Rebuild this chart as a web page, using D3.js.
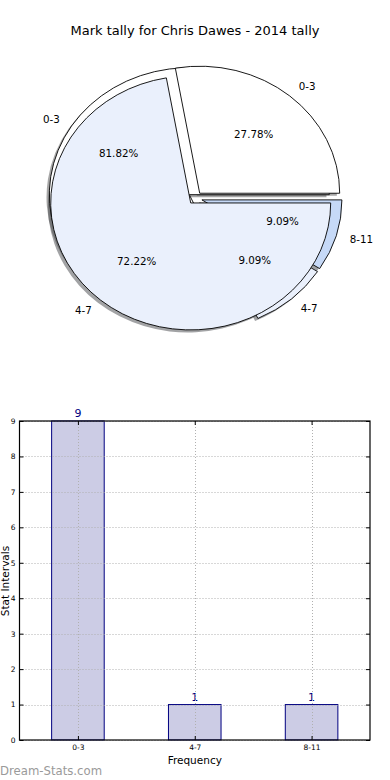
<!DOCTYPE html>
<html>
<head>
<meta charset="utf-8">
<script src="https://cdn.jsdelivr.net/npm/d3@7"></script>
<style>
	html, body { margin: 0; padding: 0; background: #fff; }
	svg { display: block; font-family: "DejaVu Sans", sans-serif; }
</style>
</head>
<body>
<svg id="chart" width="390" height="780"></svg>
<script>
// pie drawn underneath: the frequency table
const pieCategoriesB = ["0-3", "4-7", "8-11"];
const pieCountsB = [9, 1, 1];
// pie drawn on top
const pieCategoriesA = ["0-3", "4-7"];
const pieCountsA = [5, 13];
const sliceColors = ["#ffffff", "#eaf0fc", "#c6d9f7"];

const barCategories = ["0-3", "4-7", "8-11"];
const barValues = [9, 1, 1];
const yTicks = [0, 1, 2, 3, 4, 5, 6, 7, 8, 9];

const titleText = "Mark tally for Chris Dawes - 2014 tally";

let svg = d3.select("#chart");

svg.append("text")
	.attr("x", 195)
	.attr("y", 35)
	.attr("text-anchor", "middle")
	.attr("font-size", 13)
	.text(titleText);

// ---- pie (matplotlib style: starts at 3 o'clock, counterclockwise, elliptical axes)
let cx = 195.2, cy = 198.1, rx = 140, ry = 127;
let explode = 0.05;

let pie = d3.pie()
	.sort(null)
	.startAngle(Math.PI / 2)
	.endAngle(Math.PI / 2 - 2 * Math.PI);
let arc = d3.arc().innerRadius(0).outerRadius(1);

function slices(counts, categories) {
	let total = d3.sum(counts);
	return pie(counts).map((d, i) => {
		let mid = Math.PI / 2 - (d.startAngle + d.endAngle) / 2; // math angle
		return {
			arc: d,
			mid: mid,
			label: categories[i],
			pct: (counts[i] / total * 100).toFixed(2) + "%",
			color: sliceColors[i],
			ox: explode * Math.cos(mid),
			oy: -explode * Math.sin(mid)
		};
	});
}

let wedgesB = slices(pieCountsB, pieCategoriesB);
let wedgesA = slices(pieCountsA, pieCategoriesA);

let pieGroup = svg.append("g")
	.attr("transform", `translate(${cx},${cy}) scale(${rx},${ry})`);

function shade(color) {
	let c = d3.rgb(color);
	return d3.rgb(c.r * 0.3, c.g * 0.3, c.b * 0.3).toString();
}

// shadows sit under every wedge
[wedgesB, wedgesA].forEach(wedges => {
	pieGroup.append("g").selectAll("path")
		.data(wedges)
		.join("path")
		.attr("transform", d => `translate(${d.ox - 0.02},${d.oy + 0.02})`)
		.attr("d", d => arc(d.arc))
		.attr("fill", d => shade(d.color))
		.attr("fill-opacity", 0.5);
});

[wedgesB, wedgesA].forEach(wedges => {
	pieGroup.append("g").selectAll("path")
		.data(wedges)
		.join("path")
		.attr("transform", d => `translate(${d.ox},${d.oy})`)
		.attr("d", d => arc(d.arc))
		.attr("fill", d => d.color)
		.attr("stroke", "#000")
		.attr("stroke-width", 0.9)
		.attr("vector-effect", "non-scaling-stroke")
		.attr("stroke-linejoin", "round");
});

[wedgesB, wedgesA].forEach(wedges => {
	wedges.forEach(d => {
		let x0 = cx + d.ox * rx, y0 = cy + d.oy * ry;
		let c = Math.cos(d.mid), s = Math.sin(d.mid);
		svg.append("text")
			.attr("x", x0 + 1.1 * rx * c)
			.attr("y", y0 - 1.1 * ry * s)
			.attr("dy", "0.35em")
			.attr("text-anchor", c > 0 ? "start" : "end")
			.attr("font-size", 10.3)
			.text(d.label);
		svg.append("text")
			.attr("x", x0 + 0.6 * rx * c)
			.attr("y", y0 - 0.6 * ry * s)
			.attr("dy", "0.35em")
			.attr("text-anchor", "middle")
			.attr("font-size", 10.3)
			.text(d.pct);
	});
});

// ---- bar chart
let plotLeft = 19.5, plotRight = 370, plotTop = 421, plotBottom = 740;
let x = d3.scaleLinear().domain([-0.5, 2.5]).range([plotLeft, plotRight]);
let y = d3.scaleLinear().domain([0, 9]).range([plotBottom, plotTop]);
let barWidth = 0.45;

let bars = svg.append("g");
bars.selectAll("rect")
	.data(barValues)
	.join("rect")
	.attr("x", (d, i) => x(i - barWidth / 2))
	.attr("y", d => y(d))
	.attr("width", (d, i) => x(i + barWidth / 2) - x(i - barWidth / 2))
	.attr("height", d => y(0) - y(d))
	.attr("fill", "#ccccE5")
	.attr("stroke", "#000080")
	.attr("stroke-width", 1);

// dotted grid on top of bars
let grid = svg.append("g")
	.attr("stroke", "#b0b0b0")
	.attr("stroke-width", 1)
	.attr("stroke-dasharray", "1,2");
grid.selectAll("line.h")
	.data(yTicks)
	.join("line")
	.attr("class", "h")
	.attr("x1", plotLeft).attr("x2", plotRight)
	.attr("y1", d => Math.round(y(d)) + 0.5)
	.attr("y2", d => Math.round(y(d)) + 0.5);
grid.selectAll("line.v")
	.data(barCategories)
	.join("line")
	.attr("class", "v")
	.attr("x1", (d, i) => Math.round(x(i)) + 0.5)
	.attr("x2", (d, i) => Math.round(x(i)) + 0.5)
	.attr("y1", plotTop).attr("y2", plotBottom);

bars.selectAll("text")
	.data(barValues)
	.join("text")
	.attr("x", (d, i) => x(i))
	.attr("y", d => y(d) - 4)
	.attr("text-anchor", "middle")
	.attr("font-size", 11)
	.attr("fill", "#000080")
	.text(d => d);

// axes, ticks pointing inward like classic matplotlib
let yAxis = svg.append("g")
	.attr("transform", `translate(${plotLeft},0)`)
	.call(d3.axisLeft(y).tickValues(yTicks).tickSize(-4).tickPadding(4));
let yAxisRight = svg.append("g")
	.attr("transform", `translate(${plotRight},0)`)
	.call(d3.axisRight(y).tickValues(yTicks).tickSize(-4).tickFormat(""));
let xAxis = svg.append("g")
	.attr("transform", `translate(0,${plotBottom})`)
	.call(d3.axisBottom(x).tickValues([0, 1, 2]).tickSize(-4).tickPadding(5)
		.tickFormat(i => barCategories[i]));
let xAxisTop = svg.append("g")
	.attr("transform", `translate(0,${plotTop})`)
	.call(d3.axisTop(x).tickValues([0, 1, 2]).tickSize(-4).tickFormat(""));

[yAxis, yAxisRight, xAxis, xAxisTop].forEach(g => {
	g.select(".domain").remove();
	g.selectAll("text").attr("font-size", 7.5).attr("font-family", "DejaVu Sans").attr("fill", "#000");
	g.selectAll("line").attr("stroke", "#000");
});

svg.append("rect")
	.attr("x", plotLeft).attr("y", plotTop)
	.attr("width", plotRight - plotLeft).attr("height", plotBottom - plotTop)
	.attr("fill", "none")
	.attr("stroke", "#000")
	.attr("stroke-width", 1.2);

svg.append("text")
	.attr("x", (plotLeft + plotRight) / 2)
	.attr("y", 764)
	.attr("text-anchor", "middle")
	.attr("font-size", 10.5)
	.text("Frequency");

svg.append("text")
	.attr("transform", "translate(9,581) rotate(-90)")
	.attr("text-anchor", "middle")
	.attr("font-size", 10.5)
	.text("Stat Intervals");

svg.append("text")
	.attr("x", 0)
	.attr("y", 775)
	.attr("font-size", 11.7)
	.attr("fill", "#9a9a9a")
	.text("Dream-Stats.com");
</script>
</body>
</html>
